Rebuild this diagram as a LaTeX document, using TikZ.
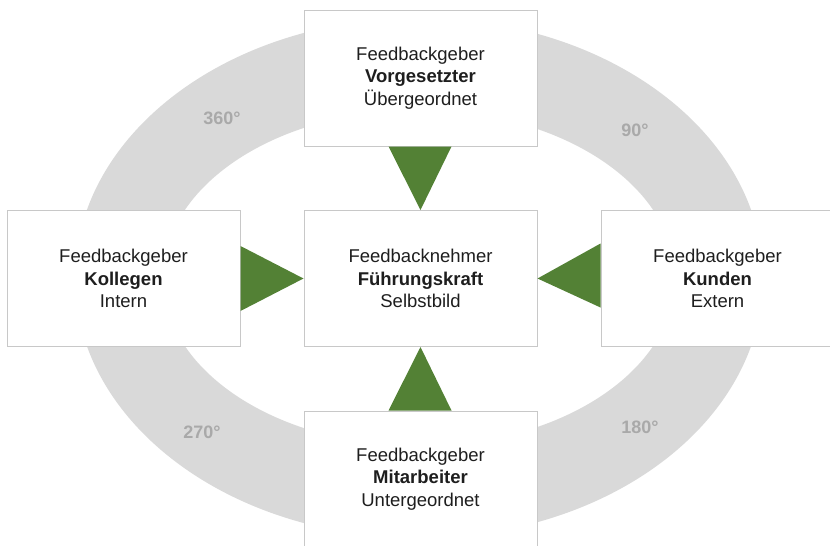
\documentclass[tikz,border=0pt]{standalone}
\usepackage{fontspec}
\setmainfont{Liberation Sans}
\usetikzlibrary{calc}
\definecolor{ringgray}{HTML}{D9D9D9}
\definecolor{labelgray}{HTML}{A9A9A9}
\definecolor{boxline}{HTML}{C8C8C8}
\definecolor{leafgreen}{HTML}{538135}
\definecolor{textdark}{HTML}{1E1E1E}
\begin{document}
\begin{tikzpicture}[x=1pt,y=-1pt,
  box/.style={draw=boxline, line width=1pt, fill=white, minimum width=233pt, minimum height=136pt,
    inner sep=0pt, align=center, text=textdark, font=\fontsize{18.5}{22.3}\selectfont},
  deg/.style={text=labelgray, font=\fontsize{18}{20}\selectfont\bfseries, inner sep=0pt},
  arrowtri/.style={fill=leafgreen}]
\useasboundingbox (0,0) rectangle (830,546);
\clip (0,0) rectangle (830,546);
% ring
\fill[ringgray, even odd rule] (419,278) ellipse [x radius=344pt, y radius=260pt]
  (419,278) ellipse [x radius=256pt, y radius=168pt];
% degree labels
\node[deg] (d360) at (222,118) {360°};
\node[deg] (d90) at (635,130) {90°};
\node[deg] (d270) at (202,432) {270°};
\node[deg] (d180) at (640,427) {180°};
% boxes
\node[box] (top) at (420.5,78) {Feedbackgeber\\\textbf{Vorgesetzter}\\Übergeordnet};
\node[box] (left) at (123.5,278.5) {Feedbackgeber\\\textbf{Kollegen}\\Intern};
\node[box] (center) at (420.5,278.5) {Feedbacknehmer\\\textbf{Führungskraft}\\Selbstbild};
\node[box] (right) at (717.5,278.5) {Feedbackgeber\\\textbf{Kunden}\\Extern};
\node[box] (bottom) at (420.5,479) {Feedbackgeber\\\textbf{Mitarbeiter}\\Untergeordnet};
% triangles
\fill[arrowtri] ($(top.south)+(-32,0)$) -- ($(top.south)+(31,0)$) -- (center.north) -- cycle;
\fill[arrowtri] ($(left.east)+(0,-32.5)$) -- ($(left.east)+(0,32.5)$) -- (center.west) -- cycle;
\fill[arrowtri] ($(right.west)+(0,-35)$) -- ($(right.west)+(0,29)$) -- (center.east) -- cycle;
\fill[arrowtri] ($(bottom.north)+(-32,0)$) -- ($(bottom.north)+(31,0)$) -- (center.south) -- cycle;
\end{tikzpicture}
\end{document}
